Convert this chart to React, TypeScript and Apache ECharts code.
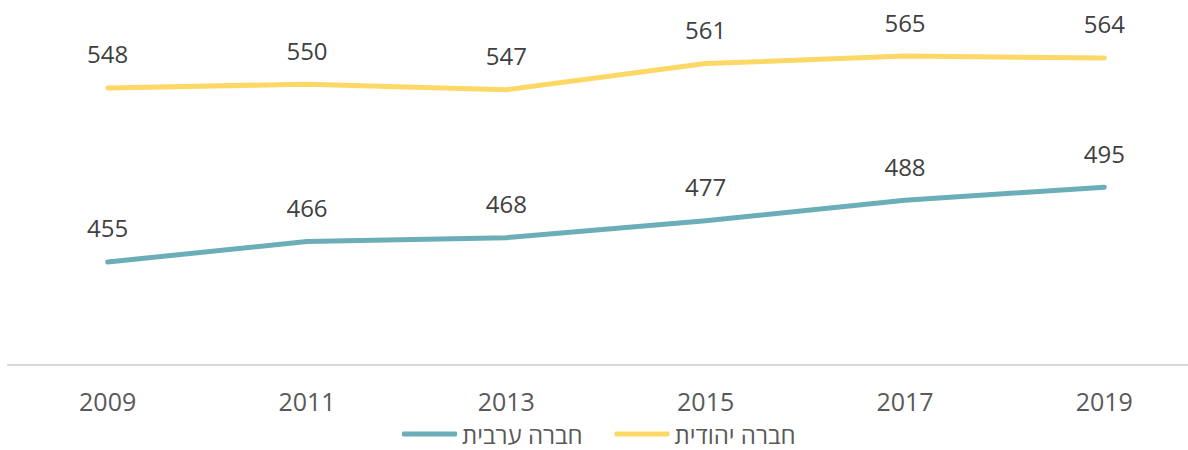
import React, { useEffect, useRef } from "react";
import * as echarts from "echarts";

const years = ["2009", "2011", "2013", "2015", "2017", "2019"];
const arabValues = [455, 466, 468, 477, 488, 495];
const jewishValues = [548, 550, 547, 561, 565, 564];
const arabName = "חברה ערבית";
const jewishName = "חברה יהודית";

export default function App() {
  const ref = useRef<HTMLDivElement>(null);
  useEffect(() => {
    if (!ref.current) return;
    const chart = echarts.init(ref.current, null, { renderer: "svg" });
    const labelStyle = {
      show: true,
      position: "top" as const,
      distance: 22,
      fontFamily: "Open Sans",
      fontSize: 24,
      color: "#404040",
    };
    chart.setOption({
      animation: false,
      grid: { left: 8, top: 28, width: 1196, height: 337, outerBoundsMode: "none", containLabel: false },
      legend: {
        data: [arabName, jewishName],
        bottom: 4,
        left: 402,
        padding: 0,
        icon: "roundRect",
        itemWidth: 55,
        itemHeight: 5,
        itemGap: 32,
        textStyle: { fontFamily: "Open Sans", fontSize: 24, lineHeight: 24, color: "#595959" },
      },
      xAxis: {
        type: "category",
        data: years,
        boundaryGap: true,
        axisLine: { show: true, lineStyle: { color: "#d9d9d9", width: 2 } },
        axisTick: { show: false },
        axisLabel: { margin: 23, fontFamily: "Open Sans", fontSize: 25, color: "#595959" },
      },
      yAxis: {
        type: "value",
        min: 400,
        max: 580,
        show: false,
        splitLine: { show: false },
      },
      series: [
        {
          name: arabName,
          type: "line",
          data: arabValues,
          showSymbol: true,
          symbol: "circle",
          symbolSize: 0.1,
          color: "#6BAEB7",
          lineStyle: { width: 5, color: "#6BAEB7", cap: "round", join: "round" },
          label: labelStyle,
        },
        {
          name: jewishName,
          type: "line",
          data: jewishValues,
          showSymbol: true,
          symbol: "circle",
          symbolSize: 0.1,
          color: "#FDD866",
          lineStyle: { width: 5, color: "#FDD866", cap: "round", join: "round" },
          label: labelStyle,
        },
      ],
    });
    return () => chart.dispose();
  }, []);
  return <div ref={ref} style={{ width: 1188, height: 450, position: "absolute", left: 0, top: 0 }} />;
}
